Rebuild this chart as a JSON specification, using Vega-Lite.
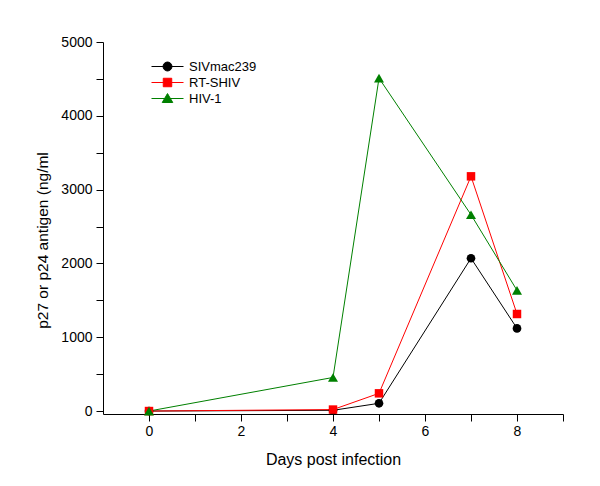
{
  "$schema": "https://vega.github.io/schema/vega-lite/v6.json",
  "width": 460,
  "height": 372,
  "autosize": {"type": "none"},
  "padding": {"left": 103, "top": 42, "right": 37, "bottom": 72},
  "background": "white",
  "config": {
    "font": "Liberation Sans",
    "view": {"stroke": null},
    "axis": {
      "domainColor": "black",
      "domainWidth": 1,
      "tickColor": "black",
      "tickWidth": 1,
      "labelColor": "black",
      "labelFontSize": 14,
      "titleColor": "black",
      "titleFontWeight": "normal",
      "grid": false
    }
  },
  "data": {
    "values": [
      {"series": "SIVmac239", "day": 0, "value": 0},
      {"series": "SIVmac239", "day": 4, "value": 10},
      {"series": "SIVmac239", "day": 5, "value": 105},
      {"series": "SIVmac239", "day": 7, "value": 2070},
      {"series": "SIVmac239", "day": 8, "value": 1120},
      {"series": "RT-SHIV", "day": 0, "value": 0},
      {"series": "RT-SHIV", "day": 4, "value": 20},
      {"series": "RT-SHIV", "day": 5, "value": 240},
      {"series": "RT-SHIV", "day": 7, "value": 3180},
      {"series": "RT-SHIV", "day": 8, "value": 1315},
      {"series": "HIV-1", "day": 0, "value": 0},
      {"series": "HIV-1", "day": 4, "value": 455},
      {"series": "HIV-1", "day": 5, "value": 4510},
      {"series": "HIV-1", "day": 7, "value": 2660},
      {"series": "HIV-1", "day": 8, "value": 1635}
    ]
  },
  "encoding": {
    "x": {
      "field": "day",
      "type": "quantitative",
      "scale": {"domain": [-1, 9], "nice": false, "zero": false},
      "axis": {
        "title": "Days post infection",
        "titleFontSize": 16,
        "titlePadding": 13,
        "values": [0, 1, 2, 3, 4, 5, 6, 7, 8, 9],
        "labelExpr": "datum.value % 2 === 0 ? datum.label : ''",
        "tickSize": 7,
        "labelPadding": 3,
        "labelFlush": false,
        "encode": {"ticks": {"update": {"y2": {"signal": "datum.value % 2 === 0 ? 7 : 4"}}}}
      }
    },
    "y": {
      "field": "value",
      "type": "quantitative",
      "scale": {"domain": [-40, 5000], "nice": false, "zero": false},
      "axis": {
        "title": "p27 or p24 antigen (ng/ml",
        "titleFontSize": 15.5,
        "titlePadding": 10,
        "titleY": 198,
        "values": [0, 500, 1000, 1500, 2000, 2500, 3000, 3500, 4000, 4500, 5000],
        "format": "d",
        "labelExpr": "datum.value % 1000 === 0 ? datum.label : ''",
        "tickSize": 7,
        "labelPadding": 4,
        "labelFlush": false,
        "encode": {"ticks": {"update": {"x2": {"signal": "datum.value % 1000 === 0 ? -7 : -4"}}}}
      }
    },
    "color": {
      "field": "series",
      "type": "nominal",
      "scale": {"domain": ["SIVmac239", "RT-SHIV", "HIV-1"], "range": ["#000000", "#ff0000", "#008000"]},
      "legend": {
        "title": null,
        "orient": "none",
        "legendX": 56,
        "legendY": 16,
        "labelFontSize": 13,
        "labelColor": "black",
        "symbolSize": 256,
        "labelOffset": 13,
        "rowPadding": 0,
        "encode": {
          "symbols": {
            "update": {
              "shape": {"signal": "datum.value === 'SIVmac239' ? 'M-2,0H2M-0.56,0A0.56,0.56,0,1,1,0.56,0A0.56,0.56,0,1,1,-0.56,0Z' : datum.value === 'RT-SHIV' ? 'M-2,0H2M-0.53,-0.53H0.53V0.53H-0.53Z' : 'M-2,0H2M0,-0.62L0.66,0.5L-0.66,0.5Z'"},
              "fill": {"scale": "color", "field": "value"},
              "stroke": {"scale": "color", "field": "value"},
              "strokeWidth": {"value": 1},
              "opacity": {"value": 1},
              "size": {"value": 256}
            }
          }
        }
      }
    }
  },
  "layer": [
    {"mark": {"type": "line", "strokeWidth": 1}},
    {
      "transform": [{"filter": "datum.series === 'SIVmac239'"}],
      "mark": {"type": "point", "shape": "circle", "filled": true, "size": 75, "opacity": 1}
    },
    {
      "transform": [{"filter": "datum.series === 'RT-SHIV'"}],
      "mark": {"type": "point", "shape": "square", "filled": true, "size": 72, "opacity": 1}
    },
    {
      "transform": [{"filter": "datum.series === 'HIV-1'"}],
      "mark": {"type": "point", "shape": "triangle-up", "filled": true, "size": 100, "opacity": 1}
    }
  ]
}
